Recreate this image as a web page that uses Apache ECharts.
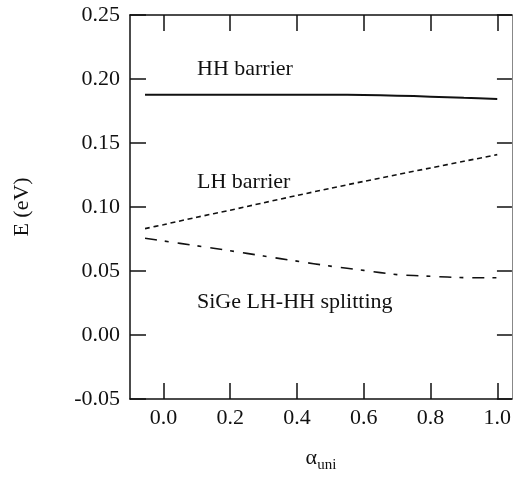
<!DOCTYPE html>
<html>
<head>
<meta charset="utf-8">
<script src="https://cdn.jsdelivr.net/npm/echarts@6/dist/echarts.min.js"></script>
<style>
  html, body { margin: 0; padding: 0; background: #fff; }
  #chart { width: 514px; height: 478px; }
</style>
</head>
<body>
<div id="chart"></div>
<script>
// Uniaxial strain parameter (x axis)
const alpha = [-0.055, 0.0, 0.1, 0.2, 0.3, 0.4, 0.5, 0.6, 0.7, 0.8, 0.9, 1.0];
// Heavy-hole barrier height (eV)
const hhBarrier = [0.1876, 0.1876, 0.1877, 0.1877, 0.1877, 0.1877, 0.1877, 0.1875, 0.1870, 0.1862, 0.1853, 0.1844];
// Light-hole barrier height (eV)
const lhBarrier = [0.0831, 0.0862, 0.0920, 0.0975, 0.1033, 0.1090, 0.1146, 0.1200, 0.1253, 0.1305, 0.1357, 0.1409];
// SiGe LH-HH splitting (eV)
const lhhhSplitting = [0.0756, 0.0735, 0.0697, 0.0658, 0.0617, 0.0577, 0.0538, 0.0505, 0.0472, 0.0459, 0.0448, 0.0447];

// Tick labels
const xTicks = [0.0, 0.2, 0.4, 0.6, 0.8, 1.0];
const curveNames = ['HH barrier', 'LH barrier', 'SiGe LH-HH splitting'];

const FONT = '"Liberation Serif", "Times New Roman", serif';
const INK = '#111';

const pairs = (ys) => alpha.map((a, i) => [a, ys[i]]);

const chart = echarts.init(document.getElementById('chart'), null, { renderer: 'canvas' });

const tickStyle = { show: true, inside: true, length: 16, lineStyle: { color: INK, width: 1.5 } };

chart.setOption({
  backgroundColor: '#fff',
  animation: false,
  grid: { left: 130, right: 1, top: 15, bottom: 77, containLabel: false },
  xAxis: [
    {
      type: 'value', position: 'bottom', min: -0.1, max: 1.044,
      axisLine: { show: true, onZero: false, lineStyle: { color: INK, width: 1.5 } },
      axisTick: Object.assign({ customValues: xTicks }, tickStyle),
      axisLabel: {
        customValues: xTicks, margin: 8, fontFamily: FONT, fontSize: 22, color: INK,
        formatter: (v) => v.toFixed(1)
      },
      splitLine: { show: false },
      name: '{a|α}{s|uni}', nameLocation: 'middle', nameGap: 48,
      nameTextStyle: {
        rich: {
          a: { fontFamily: FONT, fontSize: 22, color: INK, lineHeight: 26, verticalAlign: 'top' },
          s: { fontFamily: FONT, fontSize: 15, color: INK, lineHeight: 26, verticalAlign: 'bottom' }
        }
      }
    },
    {
      type: 'value', position: 'top', min: -0.1, max: 1.044,
      axisLine: { show: true, onZero: false, lineStyle: { color: INK, width: 1.5 } },
      axisTick: Object.assign({ customValues: xTicks }, tickStyle),
      axisLabel: { show: false },
      splitLine: { show: false }
    }
  ],
  yAxis: [
    {
      type: 'value', position: 'left', min: -0.05, max: 0.25, interval: 0.05,
      axisLine: { show: true, onZero: false, lineStyle: { color: INK, width: 1.5 } },
      axisTick: tickStyle,
      axisLabel: {
        margin: 10, fontFamily: FONT, fontSize: 22, color: INK,
        formatter: (v) => v.toFixed(2)
      },
      splitLine: { show: false },
      name: 'E (eV)', nameLocation: 'middle', nameRotate: 90, nameGap: 97,
      nameTextStyle: { fontFamily: FONT, fontSize: 22, color: INK }
    },
    {
      type: 'value', position: 'right', min: -0.05, max: 0.25, interval: 0.05,
      axisLine: { show: true, onZero: false, lineStyle: { color: '#888', width: 1 } },
      axisTick: { show: true, inside: true, length: 15, lineStyle: { color: INK, width: 1.5 } },
      axisLabel: { show: false },
      splitLine: { show: false }
    }
  ],
  series: [
    {
      name: curveNames[0], type: 'line', data: pairs(hhBarrier), smooth: 0.3,
      showSymbol: false, lineStyle: { color: INK, width: 2, type: 'solid' }
    },
    {
      name: curveNames[1], type: 'line', data: pairs(lhBarrier), smooth: 0.3,
      showSymbol: false, lineStyle: { color: INK, width: 1.6, type: [5, 3.7] }
    },
    {
      name: curveNames[2], type: 'line', data: pairs(lhhhSplitting), smooth: 0.3,
      showSymbol: false, lineStyle: { color: INK, width: 1.6, type: [12, 8, 4, 9] }
    }
  ],
  graphic: [
    { type: 'text', x: 197, y: 69, style: { text: curveNames[0], font: '22px ' + FONT, fill: INK, verticalAlign: 'middle' } },
    { type: 'text', x: 197, y: 182, style: { text: curveNames[1], font: '22px ' + FONT, fill: INK, verticalAlign: 'middle' } },
    { type: 'text', x: 197, y: 302, style: { text: curveNames[2], font: '22px ' + FONT, fill: INK, verticalAlign: 'middle' } }
  ]
});
</script>
</body>
</html>
